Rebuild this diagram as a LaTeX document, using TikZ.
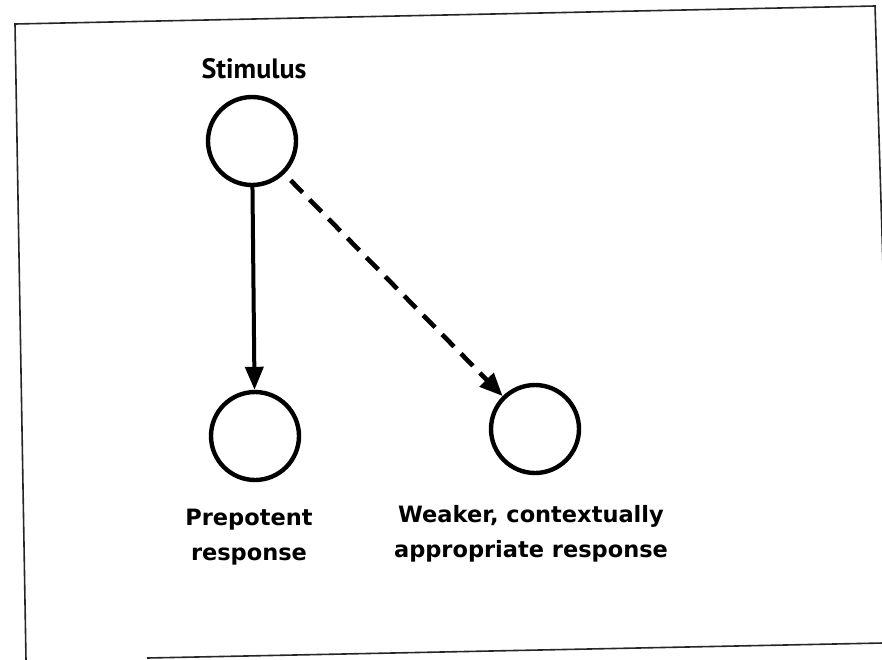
\documentclass[tikz,border=0pt]{standalone}
\usepackage{fontspec}
\setmainfont{DejaVu Sans}
\newfontfamily\stimfont{PT Sans}
\usetikzlibrary{arrows.meta}
\tikzset{
  state/.style={circle, draw, line width=4.4pt, minimum size=88pt, inner sep=0pt},
  frameline/.style={line width=1.6pt, draw=black!85},
  lbl/.style={align=center, font=\bfseries\fontsize{22.5}{35}\selectfont, inner sep=0pt, anchor=base},
  toplbl/.style={font=\stimfont\bfseries\fontsize{28}{30}\selectfont, inner sep=0pt, anchor=base},
  solidarrow/.style={line width=4pt, -{Triangle[length=23pt,width=18pt]}},
  dasharrow/.style={line width=4.6pt, dash pattern=on 17pt off 10pt, -{Triangle[length=23pt,width=19pt]}}
}
\begin{document}
\begin{tikzpicture}[x=1pt,y=-1pt]
\useasboundingbox (0,0) rectangle (882,659);
\fill[white] (0,0) rectangle (882,659);
% frame (slightly rotated scan)
\coordinate (tl) at (15,24);
\coordinate (tr) at (875,6);
\coordinate (rb) at (884,300);
\coordinate (lb) at (26,660);
\coordinate (bl) at (147,658);
\coordinate (br) at (883,643);
\draw[frameline] (lb) -- (tl) -- (tr) -- (rb);
\draw[frameline] (bl) -- (br);
% nodes
\node[state] (stim) at (252,141) {};
\node[state] (prep) at (255,436) {};
\node[state] (weak) at (535,429) {};
% labels
\node[toplbl] (stimlbl) at (254,78) {Stimulus};
\node[lbl] (preplbl) at (249,560) {Prepotent\\response};
\node[lbl] (weaklbl) at (531,557) {Weaker, contextually\\appropriate response};
% connectors
\draw[solidarrow] (stim) -- (prep);
\draw[dasharrow, shorten <=9pt] (stim) -- (weak);
\end{tikzpicture}
\end{document}
